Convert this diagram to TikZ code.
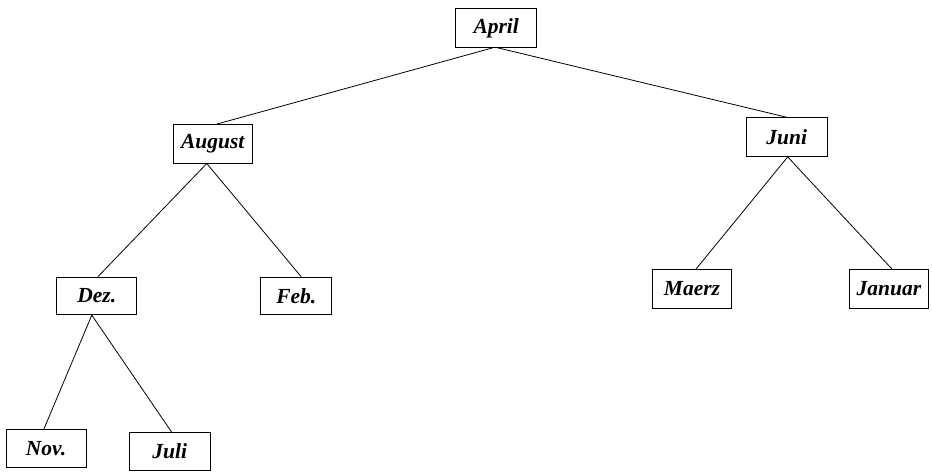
\documentclass[tikz,border=0pt]{standalone}
\usepackage{fontspec}
\setmainfont{Liberation Serif}
\begin{document}
\begin{tikzpicture}[x=1pt,y=-1pt,
  month/.style={draw, line width=0.9pt, rectangle, inner sep=0pt,
    minimum height=38.5pt, font=\fontsize{21.5}{24}\selectfont\bfseries\itshape},
  edge/.style={line width=0.8pt}]
\useasboundingbox (0,0) rectangle (932,473);
% tree nodes
\node[month, minimum width=81pt]   (april)  at (496.2,28)    {April};
\node[month, minimum width=79pt]   (august) at (212.8,143.8) {August};
\node[month, minimum width=81pt]   (juni)   at (786.7,137.2) {Juni};
\node[month, minimum width=80pt, minimum height=37.4pt] (dez) at (96.8,296) {Dez.};
\node[month, minimum width=71pt, minimum height=37.4pt] (feb) at (296.3,296) {Feb.};
\node[month, minimum width=79.4pt] (maerz)  at (692,288.8)   {Maerz};
\node[month, minimum width=79.4pt] (januar) at (889,288.8)   {Januar};
\node[month, minimum width=80pt]   (nov)    at (46,448.5)    {Nov.};
\node[month, minimum width=80.7pt, minimum height=37.3pt] (juli) at (169.7,451.3) {Juli};
% branches
\draw[edge] ([xshift=-3pt]april.south) -- ([xshift=4pt]august.north);
\draw[edge] ([xshift=1pt]april.south) -- ([xshift=1pt]juni.north);
\draw[edge] ([xshift=-6pt]august.south) -- ([xshift=1pt]dez.north);
\draw[edge] ([xshift=-6pt]august.south) -- ([xshift=5pt]feb.north);
\draw[edge] ([xshift=1pt]juni.south) -- ([xshift=4pt]maerz.north);
\draw[edge] ([xshift=1pt]juni.south) -- ([xshift=3pt]januar.north);
\draw[edge] ([xshift=-5pt]dez.south) -- ([xshift=-2pt]nov.north);
\draw[edge] ([xshift=-5pt]dez.south) -- ([xshift=2pt]juli.north);
\end{tikzpicture}
\end{document}
